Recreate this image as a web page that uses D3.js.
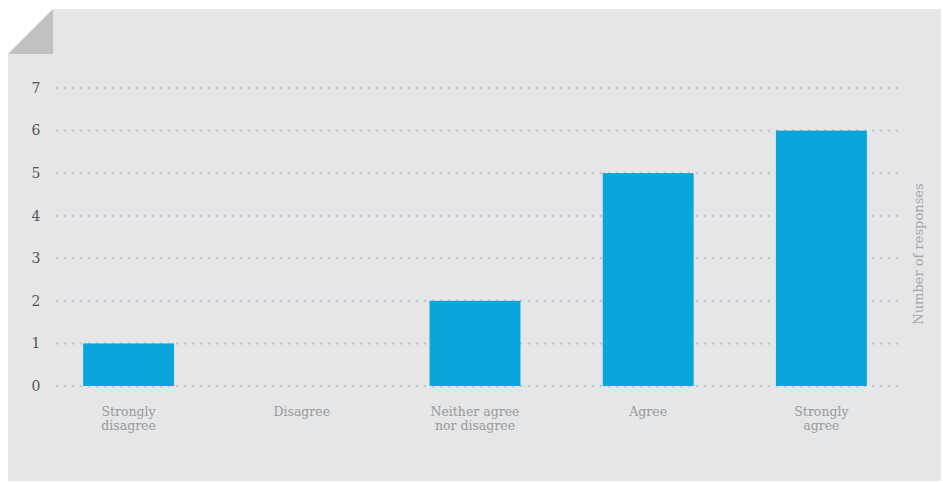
<!DOCTYPE html>
<html>
<head>
<meta charset="utf-8">
<script src="https://cdn.jsdelivr.net/npm/d3@7"></script>
<style>
  html, body { margin: 0; padding: 0; background: #fff; }
  svg { display: block; }
  text { font-family: "DejaVu Serif", "Liberation Serif", serif; }
</style>
</head>
<body>
<svg id="chart" width="943" height="482"></svg>
<script>
// Survey answers and how many respondents chose each
const categories = [
  ["Strongly", "disagree"],
  ["Disagree"],
  ["Neither agree", "nor disagree"],
  ["Agree"],
  ["Strongly", "agree"]
];
const counts = [1, 0, 2, 5, 6];
const yTicks = [0, 1, 2, 3, 4, 5, 6, 7];
const yTitle = "Number of responses";

const svg = d3.select("#chart");

// Card with a folded top-left corner
const cardL = 8, cardT = 9, cardR = 941, cardB = 481, fold = 45;
svg.append("path")
  .attr("d", `M${cardL + fold},${cardT} L${cardR},${cardT} L${cardR},${cardB} L${cardL},${cardB} L${cardL},${cardT + fold} Z`)
  .attr("fill", "#e5e6e8");
svg.append("path")
  .attr("d", `M${cardL + fold},${cardT} L${cardL + fold},${cardT + fold} L${cardL},${cardT + fold} Z`)
  .attr("fill", "#c0c1c3");

const keys = categories.map(c => c.join(" "));
const x = d3.scaleBand()
  .domain(keys)
  .range([42, 908])
  .paddingInner(0.475)
  .paddingOuter(0.2375);

const y = d3.scaleLinear().domain([0, 7]).range([386, 88]);

// Dotted gridlines
svg.append("g")
  .selectAll("line")
  .data(yTicks)
  .join("line")
  .attr("x1", 57)
  .attr("x2", 902)
  .attr("y1", d => y(d))
  .attr("y2", d => y(d))
  .attr("stroke", "#c6c7c9")
  .attr("stroke-width", 2.6)
  .attr("stroke-linecap", "round")
  .attr("stroke-dasharray", "0 8");

// Y tick labels
svg.append("g")
  .selectAll("text")
  .data(yTicks)
  .join("text")
  .attr("x", 36)
  .attr("y", d => y(d))
  .attr("dy", "0.35em")
  .attr("text-anchor", "middle")
  .attr("font-size", 14)
  .attr("fill", "#555")
  .text(d => d);

// Bars
svg.append("g")
  .selectAll("rect")
  .data(counts)
  .join("rect")
  .attr("x", (d, i) => x(keys[i]))
  .attr("width", x.bandwidth())
  .attr("y", d => y(d))
  .attr("height", d => y(0) - y(d))
  .attr("fill", "#0ba5dd");

// Category labels, one text element per line
const lines = [];
categories.forEach((c, i) => c.forEach((t, j) => lines.push({ key: keys[i], t, j })));
svg.append("g")
  .selectAll("text")
  .data(lines)
  .join("text")
  .attr("x", d => x(d.key) + x.bandwidth() / 2)
  .attr("y", d => 416 + d.j * 14)
  .attr("text-anchor", "middle")
  .attr("font-size", 12.5)
  .attr("fill", "#999a9c")
  .text(d => d.t);

// Axis title on the right
svg.append("text")
  .attr("transform", `translate(923,254) rotate(-90)`)
  .attr("text-anchor", "middle")
  .attr("font-size", 13)
  .attr("fill", "#a5a6a8")
  .text(yTitle);
</script>
</body>
</html>
